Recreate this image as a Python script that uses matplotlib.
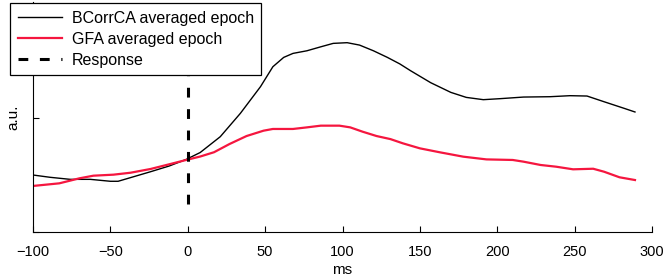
import matplotlib
matplotlib.use("Agg")
import matplotlib.pyplot as plt

plt.rcParams['font.family'] = ['Liberation Sans', 'DejaVu Sans']

# BCorrCA averaged epoch (a.u.)
bcorr_ms = [-100, -89, -76, -63, -50, -45, -37, -24, -12, -1, 8, 21, 34, 47, 55,
            62, 68, 77, 86, 94, 103, 111, 120, 129, 137, 144, 157, 170, 180, 191,
            202, 217, 234, 247, 258, 269, 282, 289]
bcorr_val = [0.500, 0.480, 0.462, 0.462, 0.445, 0.445, 0.477, 0.529, 0.579, 0.637,
             0.697, 0.836, 1.041, 1.275, 1.450, 1.532, 1.567, 1.590, 1.625, 1.655,
             1.661, 1.640, 1.590, 1.532, 1.475, 1.415, 1.310, 1.225, 1.181, 1.161,
             1.170, 1.184, 1.187, 1.196, 1.193, 1.143, 1.085, 1.053]

# GFA averaged epoch
gfa_ms = [-100, -83, -70, -61, -48, -37, -24, -12, -1, 8, 17, 27, 38, 49, 55,
          68, 77, 86, 98, 105, 113, 122, 131, 139, 150, 163, 178, 193, 210, 217,
          228, 238, 249, 262, 269, 279, 289]
gfa_val = [0.404, 0.427, 0.471, 0.494, 0.503, 0.520, 0.553, 0.594, 0.632, 0.662,
           0.700, 0.772, 0.842, 0.889, 0.904, 0.904, 0.918, 0.933, 0.933, 0.918,
           0.880, 0.842, 0.815, 0.778, 0.734, 0.699, 0.661, 0.637, 0.632, 0.617,
           0.588, 0.573, 0.550, 0.555, 0.529, 0.480, 0.456]

# response marker
resp_ms = [0, 0]
resp_val = [0.245, 2.0]

xticks = [-100, -50, 0, 50, 100, 150, 200, 250, 300]
yticks = [0, 1, 2]

fig = plt.figure(figsize=(6.64, 2.76), dpi=100)
ax = fig.add_axes([33 / 664, 44 / 276, 619 / 664, 230 / 276])

ax.plot(bcorr_ms, bcorr_val, color='black', lw=1.0, label='BCorrCA averaged epoch')
ax.plot(gfa_ms, gfa_val, color='#f5163f', lw=1.6, label='GFA averaged epoch')
ax.plot(resp_ms, resp_val, color='black', lw=2.2, dashes=(3.2, 3.8), label='Response')

ax.set_xlim(-100, 300)
ax.set_ylim(0, 2.018)
ax.set_xticks(xticks)
ax.set_yticks(yticks)
ax.set_yticklabels([])
ax.tick_params(direction='in', length=4, width=0.8, labelsize=10.5, pad=9)
ax.spines['top'].set_visible(False)
ax.spines['right'].set_visible(False)
ax.set_xlabel('ms', fontsize=11, labelpad=3)
ax.set_ylabel('a.u.', fontsize=11, labelpad=0)

leg = fig.legend(loc='upper left', bbox_to_anchor=(10 / 664, 1 - 3 / 276),
                 fontsize=11.5, frameon=True, fancybox=False, framealpha=1,
                 edgecolor='black', borderaxespad=0, handlelength=2.8,
                 handletextpad=0.6, labelspacing=0.38, borderpad=0.47)
leg.get_frame().set_linewidth(0.9)

fig.savefig('out.png', dpi=100)
